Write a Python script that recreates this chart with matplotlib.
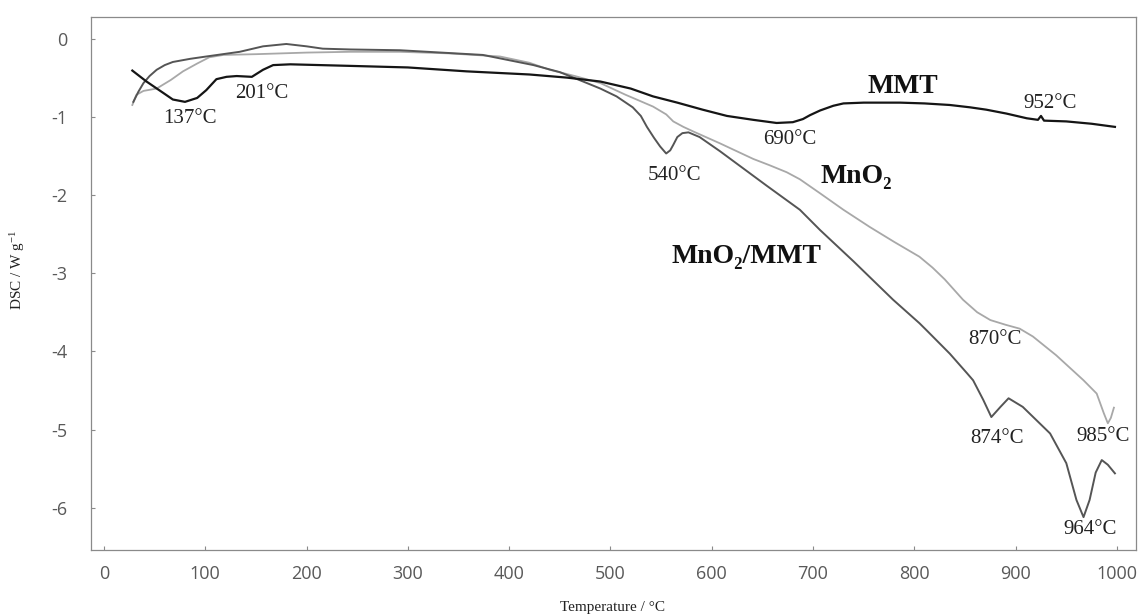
import matplotlib
matplotlib.use("Agg")
import matplotlib.pyplot as plt

# ---------------- data ----------------
mmt_T = [28, 42, 59, 68, 80, 92, 101, 111, 121, 131, 146, 157, 167, 184, 243,
         300, 358, 420, 457, 490, 520, 542, 566, 591, 615, 641, 664, 680, 690,
         697, 707, 720, 730, 750, 786, 810, 835, 855, 871, 891, 911, 922, 925,
         928, 950, 975, 998]
mmt_dsc = [-0.41, -0.55, -0.70, -0.78, -0.81, -0.76, -0.66, -0.52, -0.49, -0.48,
           -0.49, -0.40, -0.34, -0.33, -0.35,
           -0.37, -0.42, -0.46, -0.50, -0.55, -0.64, -0.74, -0.82, -0.91, -0.99,
           -1.04, -1.08, -1.07, -1.03, -0.98, -0.92, -0.86, -0.83, -0.82, -0.82,
           -0.83, -0.85, -0.88, -0.91, -0.96, -1.02, -1.04, -0.99, -1.05, -1.06,
           -1.09, -1.13]

mno2_T = [28, 32, 39, 52, 66, 78, 92, 104, 118, 151, 200, 243, 292, 340, 391,
          420, 440, 465, 490, 515, 542, 555, 562, 572, 582, 608, 641, 657, 674,
          687, 707, 730, 756, 780, 805, 818, 830, 848, 862, 875, 890, 904, 917,
          940, 967, 980, 987, 991, 994, 997]
mno2_dsc = [-0.85, -0.72, -0.67, -0.64, -0.53, -0.42, -0.32, -0.24, -0.21, -0.20,
            -0.18, -0.17, -0.17, -0.19, -0.23,
            -0.31, -0.40, -0.48, -0.57, -0.72, -0.87, -0.97, -1.06, -1.13, -1.19,
            -1.34, -1.54, -1.62, -1.71, -1.80, -1.98, -2.19, -2.41, -2.60, -2.79,
            -2.93, -3.08, -3.34, -3.50, -3.60, -3.66, -3.71, -3.81, -4.05, -4.37,
            -4.54, -4.79, -4.92, -4.85, -4.72]

comp_T = [29, 34, 39, 45, 52, 60, 68, 85, 101, 134, 157, 180, 200, 216, 243,
          292, 374, 424, 450, 473, 490, 506, 522, 530, 536, 543, 549, 555, 559,
          562, 566, 571, 577, 588, 608, 631, 654, 687, 707, 740, 779, 805, 812,
          835, 852, 858, 868, 876, 885, 893, 907, 934, 950, 960, 967, 973, 979,
          985, 991, 998]
comp_dsc = [-0.81, -0.68, -0.57, -0.48, -0.40, -0.34, -0.30, -0.26, -0.23, -0.17,
            -0.10, -0.07, -0.10, -0.13, -0.14,
            -0.15, -0.21, -0.34, -0.43, -0.55, -0.64, -0.74, -0.88, -0.99, -1.13,
            -1.27, -1.38, -1.47, -1.43, -1.36, -1.26, -1.21, -1.20, -1.26, -1.44,
            -1.66, -1.88, -2.19, -2.45, -2.85, -3.34, -3.64, -3.73, -4.03, -4.28,
            -4.37, -4.62, -4.84, -4.71, -4.60, -4.71, -5.05, -5.43, -5.90, -6.12,
            -5.90, -5.55, -5.39, -5.45, -5.56]

peak_labels = ["137°C", "201°C", "540°C", "690°C", "952°C",
               "870°C", "874°C", "985°C", "964°C"]
peak_T = [85, 156, 563, 677, 934, 880, 882, 986, 973]
peak_dsc = [-1.02, -0.70, -1.75, -1.29, -0.83, -3.85, -5.11, -5.09, -6.28]

series_labels = ["MMT", "MnO₂", "MnO₂/MMT"]
series_T = [789, 743, 634]
series_dsc = [-0.62, -1.77, -2.79]

x_ticks = list(range(0, 1001, 100))
y_ticks = list(range(-6, 1))

# ---------------- figure ----------------
plt.rcParams['mathtext.default'] = 'regular'
plt.rcParams['axes.unicode_minus'] = False
serif = ['Liberation Serif', 'DejaVu Serif']

fig = plt.figure(figsize=(11.47, 6.15), dpi=100)
ax = fig.add_axes([91 / 1147, 1 - 550 / 615, (1136 - 91) / 1147, (550 - 17) / 615])

ax.plot(mno2_T, mno2_dsc, color='#a8a8a8', lw=1.3, solid_joinstyle='round')
ax.plot(comp_T, comp_dsc, color='#555555', lw=1.4, solid_joinstyle='round')
ax.plot(mmt_T, mmt_dsc, color='#151515', lw=1.6, solid_joinstyle='round')

ax.set_xlim(-12.8, 1018.8)
ax.set_ylim(-6.54, 0.275)
ax.set_xticks(x_ticks)
ax.set_yticks(y_ticks)

for s in ax.spines.values():
    s.set_color('#8a8a8a')
    s.set_linewidth(0.9)

ax.tick_params(axis='both', direction='in', length=3, width=0.8, color='#8a8a8a',
               labelcolor='#595959', labelsize=13)
ax.tick_params(axis='x', pad=11)
ax.tick_params(axis='y', pad=17)
for lab in ax.get_xticklabels() + ax.get_yticklabels():
    lab.set_fontfamily('Open Sans')

for txt, t, d in zip(peak_labels, peak_T, peak_dsc):
    ax.text(t, d, txt, ha='center', va='center', fontsize=15, family=serif,
            color='#222222')

for txt, t, d in zip(series_labels, series_T, series_dsc):
    ax.text(t, d, txt, ha='center', va='center', fontsize=20, family=serif,
            fontweight='bold', color='#111111')

fig.text(18 / 1147, 1 - 270 / 615, 'DSC / W g$^{-1}$', rotation=90, ha='center',
         va='center', fontsize=11, family=serif, color='#222222')
fig.text(613 / 1147, 1 - 608 / 615, 'Temperature / °C', ha='center', va='center',
         fontsize=11, family=serif, color='#222222')

fig.savefig('out.png', dpi=100)
